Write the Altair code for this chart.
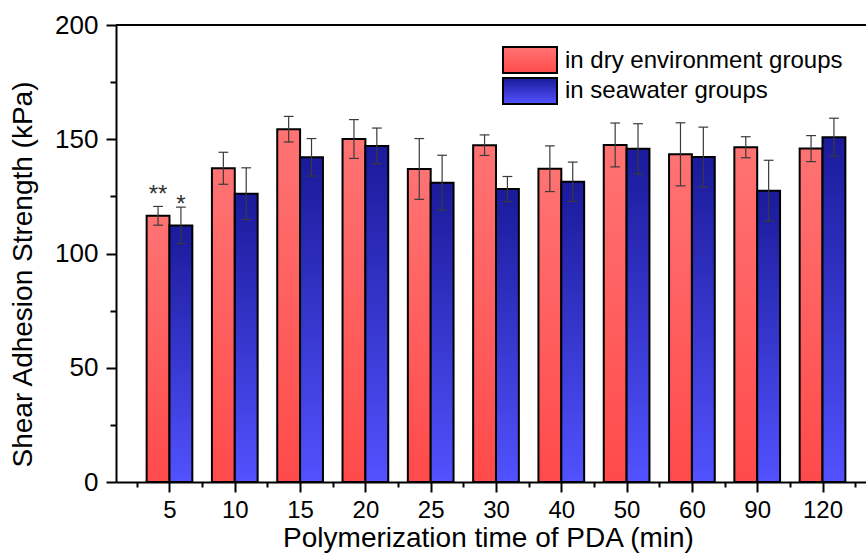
import altair as alt
import pandas as pd

categories = ["5", "10", "15", "20", "25", "30", "40", "50", "60", "90", "120"]
dry_values = [116.5, 137.3, 154.4, 150.1, 137.0, 147.4, 137.1, 147.5, 143.4, 146.5, 145.9]
dry_errors = [4.1, 7.0, 5.6, 8.5, 13.3, 4.5, 10.0, 9.6, 13.8, 4.6, 5.7]
sea_values = [112.3, 126.2, 142.1, 147.1, 131.0, 128.2, 131.4, 145.8, 142.2, 127.5, 150.9]
sea_errors = [8.0, 11.3, 8.2, 7.8, 12.0, 5.5, 8.6, 11.0, 13.1, 13.3, 8.3]
series_names = ["in dry environment groups", "in seawater groups"]
star_labels = ["**", "*"]
star_levels = [122.5, 118.0]
y_tick_values = [0, 25, 50, 75, 100, 125, 150, 175, 200]
x_tick_values = [v / 2 for v in range(1, 24)]

df = pd.DataFrame({
    "pos": list(range(1, len(categories) + 1)),
    "cat": categories,
    "dry": dry_values,
    "dry_err": dry_errors,
    "sea": sea_values,
    "sea_err": sea_errors,
})

W, H = 750, 457
FONT = "Liberation Sans"

red_grad = alt.Gradient(
    gradient="linear", x1=0, x2=0, y1=0, y2=1,
    stops=[alt.GradientStop(color="#ff7373", offset=0),
           alt.GradientStop(color="#ff4a4a", offset=1)],
)
blue_grad = alt.Gradient(
    gradient="linear", x1=0, x2=0, y1=0, y2=1,
    stops=[alt.GradientStop(color="#1a1a9a", offset=0),
           alt.GradientStop(color="#5252ff", offset=1)],
)

xscale = alt.Scale(domain=[0.181, 11.666], nice=False, zero=False)
yscale = alt.Scale(domain=[0, 200], nice=False, zero=True)

label_arr = "[" + ",".join("'" + c + "'" for c in categories) + "]"
x_axis = alt.Axis(
    title="Polymerization time of PDA (min)",
    values=x_tick_values,
    labelExpr="datum.value % 1 === 0 ? " + label_arr + "[datum.value - 1] : ''",
    tickSize={"condition": {"test": "datum.value % 1 === 0", "value": 10}, "value": 5},
    tickWidth=2, tickColor="black", domainColor="black", domainWidth=2,
    labelFontSize=24, labelColor="black", labelPadding=6, labelFont=FONT,
    labelFlush=False, labelOverlap=False, grid=False,
    titleFontSize=28, titleColor="black", titleFontWeight="normal", titleFont=FONT,
    titleX=372, titleY=64, titleBaseline="alphabetic",
)
y_axis = alt.Axis(
    title="Shear Adhesion Strength (kPa)",
    values=y_tick_values,
    labelExpr="datum.value % 50 === 0 ? datum.label : ''",
    tickSize={"condition": {"test": "datum.value % 50 === 0", "value": 10}, "value": 6},
    tickWidth=2, tickColor="black", domainColor="black", domainWidth=2,
    labelFontSize=26, labelColor="black", labelPadding=8, labelFont=FONT,
    labelFlush=False, labelOverlap=False, grid=False,
    titleFontSize=28, titleColor="black", titleFontWeight="normal", titleFont=FONT,
    titleAngle=-90, titleX=-93, titleY=249, titleBaseline="middle", titleAlign="center",
)

base = alt.Chart(df)

dry_bars = base.transform_calculate(
    xa="datum.pos - 0.35", xb="datum.pos"
).mark_bar(fill=red_grad, stroke="black", strokeWidth=2).encode(
    x=alt.X("xa:Q", scale=xscale, axis=x_axis),
    x2="xb:Q",
    y=alt.Y("dry:Q", scale=yscale, axis=y_axis),
    y2=alt.datum(0),
)
sea_bars = base.transform_calculate(
    xa="datum.pos", xb="datum.pos + 0.35"
).mark_bar(fill=blue_grad, stroke="black", strokeWidth=2).encode(
    x=alt.X("xa:Q", scale=xscale, axis=x_axis),
    x2="xb:Q",
    y=alt.Y("sea:Q", scale=yscale, axis=y_axis),
    y2=alt.datum(0),
)


def err_layers(val, err, shift):
    s = str(shift)
    t = base.transform_calculate(
        xc="datum.pos + (" + s + ")",
        c1="datum.pos + (" + s + ") - 0.075",
        c2="datum.pos + (" + s + ") + 0.075",
        lo="datum." + val + " - datum." + err,
        hi="datum." + val + " + datum." + err,
    )
    stem = t.mark_rule(color="#3a3a3a", strokeWidth=1.2).encode(
        x=alt.X("xc:Q", scale=xscale, axis=x_axis),
        y=alt.Y("lo:Q", scale=yscale, axis=y_axis),
        y2="hi:Q",
    )
    cap_hi = t.mark_rule(color="#3a3a3a", strokeWidth=1.2).encode(
        x=alt.X("c1:Q", scale=xscale, axis=x_axis),
        x2="c2:Q",
        y=alt.Y("hi:Q", scale=yscale, axis=y_axis),
    )
    cap_lo = t.mark_rule(color="#3a3a3a", strokeWidth=1.2).encode(
        x=alt.X("c1:Q", scale=xscale, axis=x_axis),
        x2="c2:Q",
        y=alt.Y("lo:Q", scale=yscale, axis=y_axis),
    )
    return [stem, cap_hi, cap_lo]


stars_df = pd.DataFrame({
    "pos": [1, 1],
    "shift": [-0.175, 0.175],
    "label": star_labels,
    "level": star_levels,
})
stars = alt.Chart(stars_df).transform_calculate(
    xc="datum.pos + datum.shift"
).mark_text(fontSize=24, font=FONT, color="#333333", baseline="alphabetic", align="center").encode(
    x=alt.X("xc:Q", scale=xscale, axis=x_axis),
    y=alt.Y("level:Q", scale=yscale, axis=y_axis),
    text="label:N",
)

top_line = alt.Chart(alt.Data(values=[{}])).mark_rule(color="black", strokeWidth=2).encode(
    x=alt.value(0), x2=alt.value(W), y=alt.value(0),
)

leg1 = pd.DataFrame({"name": series_names[:1]})
leg2 = pd.DataFrame({"name": series_names[1:]})
leg_box1 = alt.Chart(leg1).mark_rect(fill=red_grad, stroke="black", strokeWidth=2).encode(
    x=alt.value(387), x2=alt.value(441), y=alt.value(22), y2=alt.value(48),
)
leg_box2 = alt.Chart(leg2).mark_rect(fill=blue_grad, stroke="black", strokeWidth=2).encode(
    x=alt.value(387), x2=alt.value(441), y=alt.value(53), y2=alt.value(79),
)
leg_txt1 = alt.Chart(leg1).mark_text(fontSize=24, font=FONT, color="black", align="left", baseline="middle").encode(
    x=alt.value(449), y=alt.value(36), text="name:N",
)
leg_txt2 = alt.Chart(leg2).mark_text(fontSize=24, font=FONT, color="black", align="left", baseline="middle").encode(
    x=alt.value(449), y=alt.value(66), text="name:N",
)

layers = [dry_bars, sea_bars]
layers += err_layers("dry", "dry_err", -0.175)
layers += err_layers("sea", "sea_err", 0.175)
layers += [stars, top_line, leg_box1, leg_box2, leg_txt1, leg_txt2]

chart = alt.layer(*layers).properties(
    width=W, height=H,
    autosize=alt.AutoSizeParams(type="none"),
    padding={"left": 116, "top": 25, "right": 0, "bottom": 74},
    background="white",
).configure_view(stroke=None)

chart.save("out.html", embed_options={"renderer": "svg", "actions": False})
